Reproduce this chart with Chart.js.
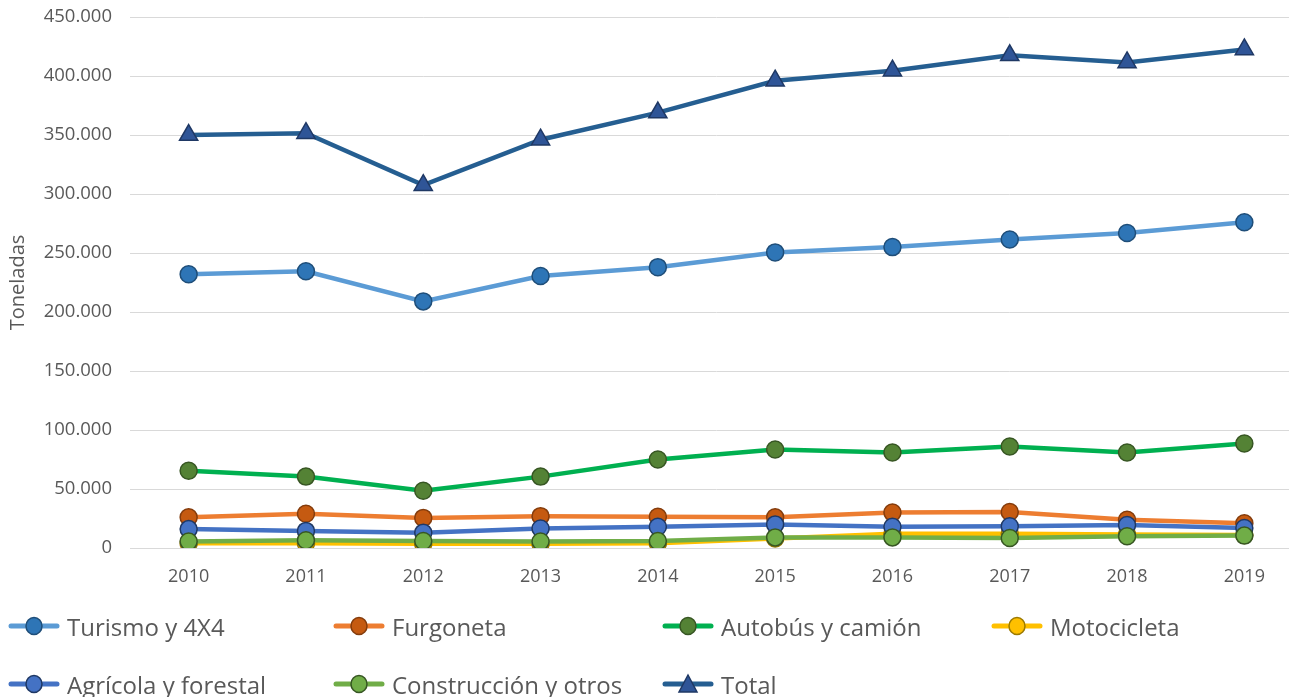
<!DOCTYPE html>
<html>
<head>
<meta charset="utf-8">
<script src="https://cdn.jsdelivr.net/npm/chart.js@4.4.1/dist/chart.umd.min.js"></script>
<style>
  html, body { margin: 0; padding: 0; background: #ffffff; overflow: hidden; width: 1289px; height: 697px; }
  #wrap { position: absolute; left: 0; top: 0; width: 1315px; height: 600px; }
  #legend { position: absolute; left: 0; top: 0; width: 1289px; height: 697px; pointer-events: none; font-family: "Open Sans", sans-serif; font-size: 24px; color: #595959; }
  .item { position: absolute; display: flex; align-items: center; height: 30px; white-space: nowrap; }
  .item canvas { margin-right: 7px; }
</style>
</head>
<body>
<div id="wrap"><canvas id="chart" width="1315" height="600"></canvas></div>
<div id="legend"></div>
<script>
const categories = ["2010","2011","2012","2013","2014","2015","2016","2017","2018","2019"];
const seriesNames = ["Turismo y 4X4","Furgoneta","Autobús y camión","Motocicleta","Agrícola y forestal","Construcción y otros","Total"];
const turismo      = [232000, 234500, 209000, 230500, 238000, 250500, 255000, 261500, 267000, 276000];
const furgoneta    = [26000, 29000, 25500, 27000, 26500, 26000, 30000, 30500, 24000, 21000];
const autobus      = [65500, 60500, 48500, 60500, 75000, 83500, 81000, 86000, 81000, 88500];
const motocicleta  = [4000, 4000, 3500, 3500, 4000, 8000, 12000, 12000, 11500, 11000];
const agricola     = [16000, 14500, 13000, 16500, 18000, 20000, 18000, 18500, 19500, 17000];
const construccion = [5500, 6500, 6000, 5500, 6000, 9000, 9000, 8500, 10000, 10500];
const total        = [350000, 351500, 307500, 346000, 369000, 396000, 404500, 417500, 411500, 422500];
const yAxisTitle = "Toneladas";

const seriesValues = [turismo, furgoneta, autobus, motocicleta, agricola, construccion, total];
const styles = [
  { line: "#5B9BD5", fill: "#2E75B6", edge: "#1F4E79", shape: "circle" },
  { line: "#ED7D31", fill: "#C55A11", edge: "#843C0C", shape: "circle" },
  { line: "#00B050", fill: "#548235", edge: "#375623", shape: "circle" },
  { line: "#FFC000", fill: "#FFC000", edge: "#9C7A00", shape: "circle" },
  { line: "#4472C4", fill: "#4472C4", edge: "#1F3864", shape: "circle" },
  { line: "#70AD47", fill: "#70AD47", edge: "#375623", shape: "circle" },
  { line: "#255E91", fill: "#2F5597", edge: "#1F3864", shape: "triangle" }
];

function fmt(v) {
  return String(Math.round(v)).replace(/\B(?=(\d{3})+(?!\d))/g, ".");
}

const datasets = seriesNames.map((name, i) => ({
  label: name,
  data: seriesValues[i],
  borderColor: styles[i].line,
  backgroundColor: styles[i].fill,
  borderWidth: 4.5,
  pointStyle: styles[i].shape,
  pointRadius: styles[i].shape === "triangle" ? 10.5 : 8.5,
  pointBackgroundColor: styles[i].fill,
  pointBorderColor: styles[i].edge,
  pointBorderWidth: 1.5,
  tension: 0,
  fill: false,
  order: seriesNames.length - i
}));

// Plot area target on the page: top 17 px, height 530 px, left 130 px
const TOP = 17, PLOT_H = 530, LEFT = 130;

const chart = new Chart(document.getElementById("chart"), {
  type: "line",
  data: { labels: categories, datasets },
  options: {
    responsive: false,
    animation: false,
    layout: { padding: { top: 0, right: 8, left: 0, bottom: 0 } },
    plugins: { legend: { display: false }, tooltip: { enabled: false } },
    scales: {
      x: {
        offset: true,
        grid: { display: false, drawTicks: false },
        border: { color: "#d9d9d9", width: 1 },
        ticks: { color: "#595959", font: { family: "Open Sans", size: 18 }, padding: 18, maxRotation: 0 },
        afterFit: (s) => { s.height = 57; }
      },
      y: {
        min: 0, max: 450000,
        ticks: { stepSize: 50000, color: "#595959", font: { family: "Open Sans", size: 18.5 }, padding: 18, callback: (v) => fmt(v) },
        grid: { color: "#d9d9d9", lineWidth: 1, drawTicks: false },
        border: { display: false },
        title: { display: true, text: yAxisTitle, color: "#595959", font: { family: "Open Sans", size: 20 }, padding: { top: 6, bottom: 0 } },
        afterFit: (s) => { s.width = LEFT; s.paddingTop = 0; s.paddingBottom = 0; }
      }
    }
  },
  plugins: [{
    id: "fixArea",
    afterLayout(c) {
      const shift = c.chartArea.top - TOP;
      document.getElementById("wrap").style.top = (-shift) + "px";
    }
  }]
});

// HTML legend built from the datasets
const legend = document.getElementById("legend");
const colX = [8, 333, 662, 991];
const rowY = [626, 684];
datasets.forEach((ds, i) => {
  const st = styles[i];
  const div = document.createElement("div");
  div.className = "item";
  div.style.left = colX[i % 4] + "px";
  div.style.top = (rowY[Math.floor(i / 4)] - 15) + "px";
  const c = document.createElement("canvas");
  c.width = 52; c.height = 24;
  const ctx = c.getContext("2d");
  ctx.strokeStyle = st.line; ctx.lineWidth = 5; ctx.lineCap = "round";
  ctx.beginPath(); ctx.moveTo(3, 12); ctx.lineTo(49, 12); ctx.stroke();
  ctx.fillStyle = st.fill; ctx.strokeStyle = st.edge; ctx.lineWidth = 1.5;
  ctx.beginPath();
  if (st.shape === "triangle") {
    ctx.moveTo(26, 3); ctx.lineTo(35, 20); ctx.lineTo(17, 20); ctx.closePath();
  } else {
    ctx.ellipse(26, 12, 8, 8.5, 0, 0, Math.PI * 2);
  }
  ctx.fill(); ctx.stroke();
  div.appendChild(c);
  const t = document.createElement("span");
  t.textContent = ds.label;
  div.appendChild(t);
  legend.appendChild(div);
});
</script>
</body>
</html>
